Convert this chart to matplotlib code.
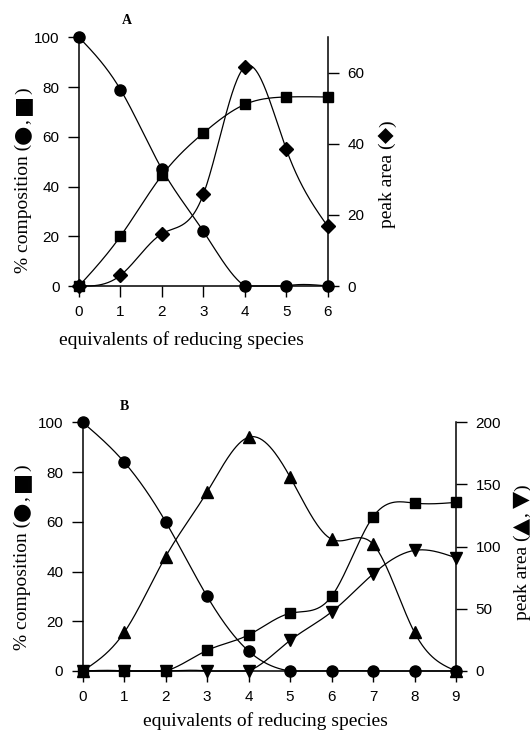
import numpy as np
import matplotlib
matplotlib.use("Agg")
import matplotlib.pyplot as plt

# ---------------- data ----------------
# Panel A
a_x = [0, 1, 2, 3, 4, 5, 6]
a_circle = [100, 79, 47, 22, 0, 0, 0]          # % composition
a_square = [0, 20, 44.5, 61.5, 73, 76, 76]     # % composition
a_diamond = [0, 3, 14.7, 25.8, 61.7, 38.5, 16.8]  # peak area

# Panel B
b_x = [0, 1, 2, 3, 4, 5, 6, 7, 8, 9]
b_circle = [100, 84, 60, 30, 8, 0, 0, 0, 0, 0]
b_square = [0, 0, 0, 8.3, 14.5, 23.2, 30, 62, 67.5, 67.8]
b_up = [0, 31, 92, 144, 188, 156, 106, 102, 31, 0]     # peak area
b_down = [0, 0, 0, 0, 0, 24.6, 47.5, 78, 97, 91]       # peak area

a_left_ticks = [0, 20, 40, 60, 80, 100]
a_right_ticks = [0, 20, 40, 60]
b_left_ticks = [0, 20, 40, 60, 80, 100]
b_right_ticks = [0, 50, 100, 150, 200]


def natural_spline(x, y, n=300):
    x = np.asarray(x, float)
    y = np.asarray(y, float)
    m = len(x)
    h = np.diff(x)
    A = np.zeros((m, m))
    r = np.zeros(m)
    A[0, 0] = 1
    A[-1, -1] = 1
    for i in range(1, m - 1):
        A[i, i - 1] = h[i - 1]
        A[i, i] = 2 * (h[i - 1] + h[i])
        A[i, i + 1] = h[i]
        r[i] = 6 * ((y[i + 1] - y[i]) / h[i] - (y[i] - y[i - 1]) / h[i - 1])
    M = np.linalg.solve(A, r)
    xs = np.linspace(x[0], x[-1], n)
    idx = np.clip(np.searchsorted(x, xs) - 1, 0, m - 2)
    x0 = x[idx]; x1 = x[idx + 1]; hh = x1 - x0
    t0 = x1 - xs; t1 = xs - x0
    ys = (M[idx] * t0 ** 3 + M[idx + 1] * t1 ** 3) / (6 * hh) \
        + (y[idx] / hh - M[idx] * hh / 6) * t0 \
        + (y[idx + 1] / hh - M[idx + 1] * hh / 6) * t1
    return xs, np.maximum(ys, y.min())


SERIF = ["Liberation Serif", "DejaVu Sans"]
SYM = ["DejaVu Sans"]
SANS = "Liberation Sans"
plt.rcParams["font.family"] = SANS

fig = plt.figure(figsize=(5.30, 7.34), dpi=100)
renderer = fig.canvas.get_renderer()

LW = 0.9
SPW = 1.1


def style_axes(ax, twin):
    ax.spines["top"].set_visible(False)
    twin.spines["top"].set_visible(False)
    twin.spines["left"].set_visible(False)
    twin.spines["bottom"].set_visible(False)
    ax.spines["right"].set_visible(False)
    for s in ["left", "bottom"]:
        ax.spines[s].set_linewidth(SPW)
    twin.spines["right"].set_linewidth(SPW)
    ax.tick_params(axis="both", direction="out", length=8, width=1.0,
                   labelsize=11, pad=6)
    twin.tick_params(axis="y", direction="out", length=8, width=1.0,
                     labelsize=11, pad=6)


def series(ax, x, y, marker, ms):
    xs, ys = natural_spline(x, y)
    ax.plot(xs, ys, color="black", lw=LW, clip_on=False, zorder=3)
    ax.plot(x, y, linestyle="none", marker=marker, ms=ms, color="black",
            clip_on=False, zorder=4)


def vlabel(xc, yc, pieces):
    """Rotated (90 deg) label built from pieces (text, family, size), centred at (xc, yc) pixels."""
    # measure
    widths = []
    for txt, fam, size in pieces:
        t = fig.text(0, 0, txt, family=fam, fontsize=size)
        bb = t.get_window_extent(renderer)
        widths.append(bb.width)
        t.remove()
    total = sum(widths)
    y = yc - total / 2
    # baseline offset so glyphs are centred at xc (approx 0.35 of 14pt)
    xb = xc + 5
    for (txt, fam, size), w in zip(pieces, widths):
        fig.text(xb / 530, y / 734, txt, family=fam, fontsize=size,
                 rotation=90, rotation_mode="anchor", ha="left", va="baseline")
        y += w


def comp_label(xc, yc_from_top):
    vlabel(xc, 734 - yc_from_top, [
        ("% composition (", SERIF, 14),
        ("●", SYM, 16),
        (", ", SERIF, 14),
        ("■", SYM, 16),
        (")", SERIF, 14),
    ])


# ---------------- Panel A ----------------
axA = fig.add_axes([79 / 530, 1 - 286 / 734, (327.7 - 79) / 530, (286 - 37.3) / 734])
axA2 = axA.twinx()
axA.set_xlim(0, 6)
axA.set_ylim(0, 100)
axA2.set_ylim(0, 70)
style_axes(axA, axA2)
axA.set_xticks(a_x)
axA.set_yticks(a_left_ticks)
axA2.set_yticks(a_right_ticks)

series(axA, a_x, a_circle, "o", 8)
series(axA, a_x, a_square, "s", 7.5)
series(axA2, a_x, a_diamond, "D", 7)

fig.text(127 / 530, 1 - 21 / 734, "A", family=SERIF, fontsize=10,
         fontweight="bold", ha="center", va="center")
comp_label(23, 180)
vlabel(387, 734 - 174, [
    ("peak area (", SERIF, 14),
    ("◆", SYM, 15),
    (")", SERIF, 14),
])
fig.text(181 / 530, 1 - 340 / 734, "equivalents of reducing species",
         family=SERIF, fontsize=14, ha="center", va="center")

# ---------------- Panel B ----------------
axB = fig.add_axes([82.7 / 530, 1 - 671 / 734, (456 - 82.7) / 530, (671 - 422.3) / 734])
axB2 = axB.twinx()
axB.set_xlim(0, 9)
axB.set_ylim(0, 100)
axB2.set_ylim(0, 200)
style_axes(axB, axB2)
axB.set_xticks(b_x)
axB.set_yticks(b_left_ticks)
axB2.set_yticks(b_right_ticks)

series(axB, b_x, b_circle, "o", 8)
series(axB, b_x, b_square, "s", 7.5)
series(axB2, b_x, b_up, "^", 8)
series(axB2, b_x, b_down, "v", 8)

fig.text(124 / 530, 1 - 407 / 734, "B", family=SERIF, fontsize=10,
         fontweight="bold", ha="center", va="center")
comp_label(22, 557)
vlabel(522, 734 - 552, [
    ("peak area (", SERIF, 14),
    ("▲", SYM, 16),
    (", ", SERIF, 14),
    ("▼", SYM, 16),
    (")", SERIF, 14),
])
fig.text(265 / 530, 1 - 721 / 734, "equivalents of reducing species",
         family=SERIF, fontsize=14, ha="center", va="center")

fig.savefig("out.png", dpi=100)
